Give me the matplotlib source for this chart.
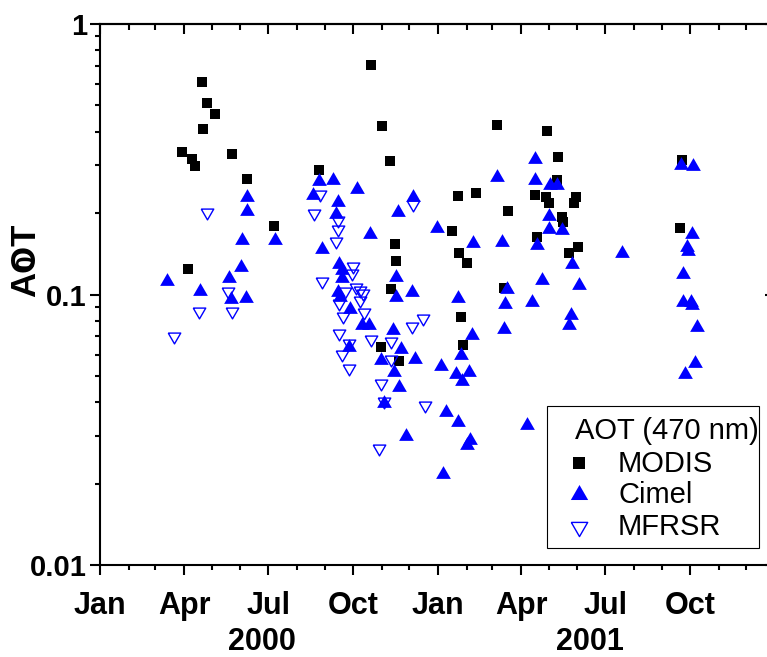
import numpy as np
import matplotlib
matplotlib.use("Agg")
import matplotlib.pyplot as plt
import matplotlib.dates as mdates
from matplotlib.lines import Line2D
from matplotlib.patches import Rectangle
from matplotlib.ticker import LogLocator, NullFormatter, NullLocator, FuncFormatter

plt.rcParams['font.family'] = ['Liberation Sans', 'DejaVu Sans']
plt.rcParams['font.weight'] = 'bold'

W, H = 767, 657
START = np.datetime64('2000-01-01')
END = np.datetime64('2002-01-01')

# MODIS retrievals: day of record (days since 1 Jan 2000) and AOT at 470 nm
modis_day = [110, 116, 125, 112, 89, 100, 103, 143, 159, 188,
             95, 237, 294, 305, 314, 320, 321, 315, 304, 324,
             381, 388, 407, 389, 397, 391, 393, 430, 442, 438,
             471, 473, 483, 486, 484, 495, 496, 500, 501, 508,
             518, 516, 513, 628, 630]
modis_aot = [0.610, 0.510, 0.465, 0.409, 0.336, 0.317, 0.299, 0.331, 0.267, 0.179,
             0.124, 0.289, 0.705, 0.420, 0.312, 0.154, 0.133, 0.105, 0.0640, 0.0568,
             0.172, 0.231, 0.237, 0.142, 0.131, 0.0826, 0.0651, 0.423, 0.204, 0.106,
             0.233, 0.163, 0.229, 0.218, 0.402, 0.265, 0.322, 0.193, 0.185, 0.142,
             0.150, 0.229, 0.218, 0.176, 0.314]

# Cimel sun photometer
cimel_day = [73, 108, 140, 142, 158, 153, 154, 159, 159, 190,
             237, 252, 278, 231, 258, 256, 292, 323, 339, 365,
             240, 259, 262, 262, 258, 260, 271, 284, 291, 317,
             321, 321, 338, 270, 304, 326, 318, 324, 308, 341,
             331, 388, 369, 391, 403, 386, 400, 392, 375, 388,
             401, 397, 371, 404, 430, 435, 441, 439, 438, 462,
             471, 471, 487, 495, 486, 486, 500, 473, 511, 479,
             519, 468, 510, 508, 565, 629, 642, 641, 636, 637,
             631, 631, 640, 641, 646, 644, 634]
cimel_aot = [0.114, 0.105, 0.117, 0.0979, 0.0987, 0.129, 0.162, 0.207, 0.233, 0.162,
             0.267, 0.270, 0.250, 0.237, 0.224, 0.202, 0.170, 0.205, 0.233, 0.179,
             0.150, 0.132, 0.125, 0.117, 0.104, 0.0996, 0.0899, 0.0785, 0.0785, 0.0752,
             0.118, 0.0996, 0.104, 0.0651, 0.0583, 0.0640, 0.0526, 0.0463, 0.0404, 0.0587,
             0.0305, 0.0987, 0.0553, 0.0608, 0.0721, 0.0517, 0.0526, 0.0487, 0.0374, 0.0344,
             0.0295, 0.0283, 0.0221, 0.158, 0.277, 0.159, 0.107, 0.0938, 0.0758, 0.0335,
             0.322, 0.270, 0.258, 0.258, 0.198, 0.178, 0.176, 0.155, 0.132, 0.115,
             0.110, 0.0954, 0.0854, 0.0785, 0.145, 0.306, 0.304, 0.170, 0.152, 0.147,
             0.121, 0.0954, 0.0954, 0.0930, 0.0771, 0.0568, 0.0517]

# MFRSR shadowband radiometer
mfrsr_day = [116, 139, 107, 143, 80, 238, 232, 258, 258, 256,
             240, 274, 273, 277, 282, 285, 265, 259, 282, 263,
             286, 259, 270, 262, 270, 294, 315, 315, 304, 308,
             302, 338, 350, 352, 339]
mfrsr_aot = [0.198, 0.101, 0.0854, 0.0854, 0.0691, 0.231, 0.197, 0.185, 0.172, 0.155,
             0.110, 0.125, 0.118, 0.105, 0.102, 0.100, 0.101, 0.0914, 0.0938, 0.0819,
             0.0847, 0.0708, 0.0651, 0.0593, 0.0526, 0.0673, 0.0662, 0.0568, 0.0463, 0.0397,
             0.0266, 0.0752, 0.0805, 0.0384, 0.212]

series_labels = ["MODIS", "Cimel", "MFRSR"]
legend_title = "AOT (470 nm)"
y_ticks = [0.01, 0.1, 1]
y_ticklabels = ["0.01", "0.1", "1"]
year_labels = ["2000", "2001"]


def to_dates(days):
    return START + np.asarray(days).astype('timedelta64[D]')


# equilateral triangles (width = markersize)
TRI_UP = [(-1, -0.866), (1, -0.866), (0, 0.866), (-1, -0.866)]
TRI_DN = [(-1, 0.866), (1, 0.866), (0, -0.866), (-1, 0.866)]
BLUE = '#0000ff'


def fx(x):
    return x / W


def fy(y):
    return 1 - y / H


def month_label(value, pos):
    d = mdates.num2date(value)
    # the closing tick sits on the frame edge and carries no label
    if d.year >= 2002:
        return ""
    return d.strftime('%b')


fig = plt.figure(figsize=(W / 100, H / 100), dpi=100)
ax = fig.add_axes([fx(100), fy(565), 675 / W, 541 / H])

ax.plot(to_dates(modis_day), modis_aot, linestyle='none', marker='s',
        ms=7.4, mfc='black', mec='black', mew=0, zorder=3)
ax.plot(to_dates(cimel_day), cimel_aot, linestyle='none', marker=TRI_UP,
        ms=10.6, mfc=BLUE, mec=BLUE, mew=0, zorder=4)
ax.plot(to_dates(mfrsr_day), mfrsr_aot, linestyle='none', marker=TRI_DN,
        ms=9.0, mfc='none', mec=BLUE, mew=1.0, zorder=5)

ax.set_yscale('log')
ax.set_ylim(0.01, 1)
ax.set_xlim(START, END)

ax.xaxis.set_major_locator(mdates.MonthLocator(bymonth=[1, 4, 7, 10]))
ax.xaxis.set_minor_locator(mdates.MonthLocator())
ax.xaxis.set_major_formatter(FuncFormatter(month_label))
ax.set_yticks(y_ticks)
ax.set_yticklabels(y_ticklabels)
ax.yaxis.set_minor_locator(LogLocator(base=10, subs=np.arange(2, 10)))
ax.yaxis.set_minor_formatter(NullFormatter())

for sp in ax.spines.values():
    sp.set_linewidth(1.5)
ax.tick_params(which='both', direction='out', width=1.5, top=False, right=False)
ax.tick_params(which='major', length=7.5)
ax.tick_params(which='minor', length=3.5)
ax.tick_params(axis='x', labelsize=22, pad=11)
ax.tick_params(axis='y', labelsize=21, pad=2)

# mirrored ticks pointing inward on top and right
top = ax.secondary_xaxis('top')
top.xaxis.set_major_locator(mdates.MonthLocator(bymonth=[1, 4, 7, 10]))
top.xaxis.set_minor_locator(mdates.MonthLocator())
top.tick_params(which='both', direction='in', width=1.5, labeltop=False)
top.tick_params(which='major', length=7.5)
top.tick_params(which='minor', length=4)
top.spines['top'].set_linewidth(1.5)

right = ax.secondary_yaxis('right')
right.set_yticks(y_ticks)
right.yaxis.set_minor_locator(NullLocator())
right.tick_params(which='both', direction='in', width=1.5, length=7.5, labelright=False)
right.spines['right'].set_linewidth(1.5)

# year captions under the month labels
fig.text(fx(262), fy(642), year_labels[0], fontsize=22, ha='center', va='center')
fig.text(fx(590), fy(642), year_labels[1], fontsize=22, ha='center', va='center')

# y-axis title
fig.text(fx(26), fy(260), "AOT", rotation=90, fontsize=25, ha='center', va='center')
fig.text(fx(27), fy(262), "0", rotation=90, fontsize=19, ha='center', va='center')

# legend box
fig.add_artist(Rectangle((fx(547), fy(548)), (759 - 547) / W, (548 - 406) / H,
                         transform=fig.transFigure, fill=False, ec='black', lw=0.8))
fig.text(fx(575), fy(439), legend_title, fontsize=21, fontweight='normal',
         ha='left', va='baseline')
key_styles = [
    dict(marker='s', ms=9.2, mfc='black', mec='black', mew=0),
    dict(marker=TRI_UP, ms=12.5, mfc=BLUE, mec=BLUE, mew=0),
    dict(marker=TRI_DN, ms=11.8, mfc='none', mec=BLUE, mew=1.0),
]
key_y = [463, 492, 529]
text_base = [472, 503, 535]
for lab, st, ky, tb in zip(series_labels, key_styles, key_y, text_base):
    fig.add_artist(Line2D([fx(579)], [fy(ky)], transform=fig.transFigure,
                          linestyle='none', **st))
    fig.text(fx(618), fy(tb), lab, fontsize=21, fontweight='normal',
             ha='left', va='baseline')

fig.savefig('out.png', dpi=100)
